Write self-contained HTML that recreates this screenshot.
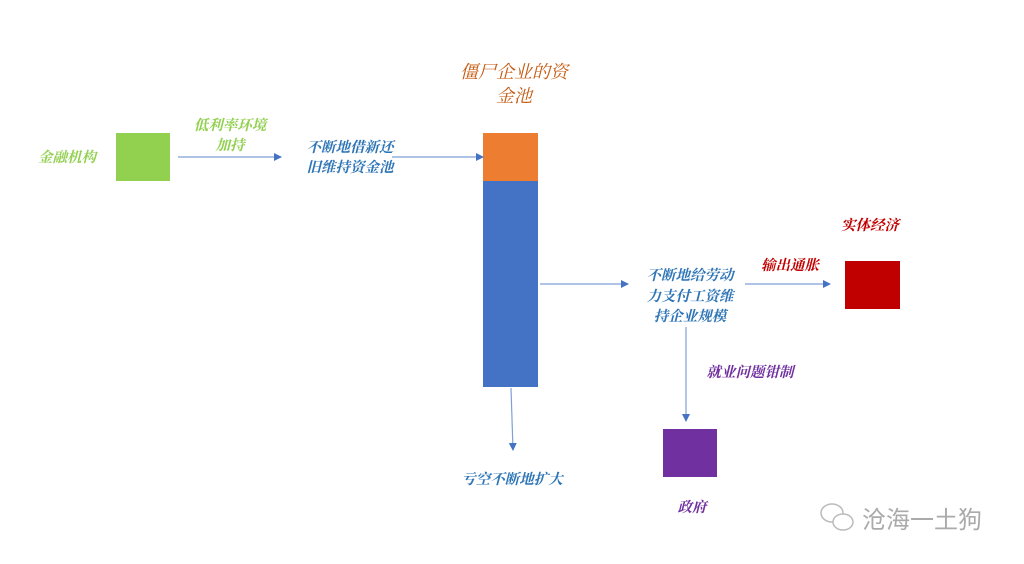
<!DOCTYPE html>
<html><head><meta charset="utf-8"><style>
body{margin:0;width:1024px;height:564px;background:#fff;position:relative;overflow:hidden;font-family:"Liberation Serif","Noto Serif CJK SC","Noto Sans CJK SC",serif}
.t{position:absolute;white-space:nowrap;text-align:center;line-height:20px;font-size:14.5px;font-weight:bold;font-style:italic;transform:translateX(-50%)}
.b{position:absolute}
</style></head><body>
<div class="b" style="left:116px;top:133px;width:54px;height:48px;background:#92d050"></div>
<div class="b" style="left:483px;top:133px;width:55px;height:48px;background:#ed7d31"></div>
<div class="b" style="left:483px;top:181px;width:55px;height:206px;background:#4472c4"></div>
<div class="b" style="left:845px;top:261px;width:55px;height:48px;background:#c00000"></div>
<div class="b" style="left:663px;top:429px;width:54px;height:48px;background:#7030a0"></div>
<svg class="b" style="left:0;top:0" width="1024" height="564">
<defs><marker id="a" markerWidth="8" markerHeight="8" refX="7" refY="4" orient="auto" markerUnits="userSpaceOnUse"><path d="M0,0 L8,4 L0,8z" fill="#4472c4"/></marker></defs>
<g stroke="#7f9fd6" stroke-width="1.2" fill="none" marker-end="url(#a)">
<line x1="178" y1="157" x2="281" y2="157"/>
<line x1="392" y1="157" x2="483" y2="157"/>
<line x1="540" y1="284" x2="628" y2="284"/>
<line x1="745" y1="284" x2="830" y2="284"/>
<line x1="686" y1="327" x2="686" y2="421"/>
<line x1="511" y1="388" x2="513" y2="450"/>
</g>
<g fill="none" stroke="#bbb" stroke-width="1.5">
<ellipse cx="832" cy="513" rx="11" ry="9"/>
<ellipse cx="843" cy="522" rx="10" ry="8" fill="#fff"/>
</g></svg>
<div class="t" style="left:67px;top:148px;color:#92d050">金融机构</div>
<div class="t" style="left:230px;top:116px;color:#92d050">低利率环境<br>加持</div>
<div class="t" style="left:350px;top:138px;color:#2e75b6">不断地借新还<br>旧维持资金池</div>
<div class="t" style="left:514px;top:60px;color:#c55a11;font-size:18px;line-height:24px;font-weight:normal">僵尸企业的资<br>金池</div>
<div class="t" style="left:870px;top:216px;color:#c00000">实体经济</div>
<div class="t" style="left:790px;top:256px;color:#c00000">输出通胀</div>
<div class="t" style="left:690px;top:266px;color:#2e75b6;line-height:20.5px">不断地给劳动<br>力支付工资维<br>持企业规模</div>
<div class="t" style="left:750px;top:363px;color:#7030a0">就业问题钳制</div>
<div class="t" style="left:692px;top:498px;color:#7030a0">政府</div>
<div class="t" style="left:512px;top:470px;color:#2e75b6">亏空不断地扩大</div>
<div class="b" style="left:862px;top:503px;color:#aaa;font-size:24px;font-family:'Noto Sans CJK SC',sans-serif;line-height:30px">沧海一土狗</div>
</body></html>
